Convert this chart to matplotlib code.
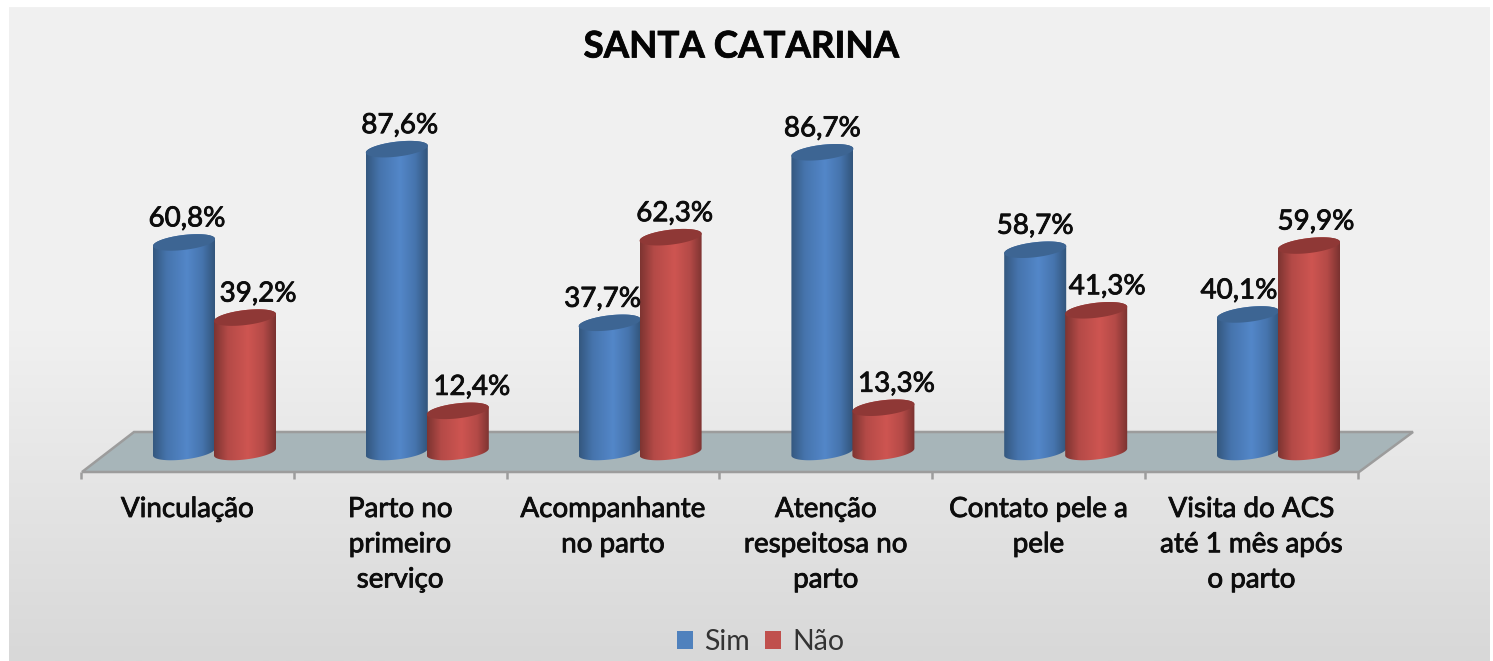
import matplotlib
matplotlib.use('Agg')
import matplotlib.pyplot as plt
import matplotlib.patheffects as pe
import numpy as np
from matplotlib.colors import LinearSegmentedColormap
from matplotlib.patches import Patch, PathPatch, Polygon
from matplotlib.path import Path

plt.rcParams['font.family'] = ['Lato', 'DejaVu Sans']

categorias = ['Vinculação', 'Parto no\nprimeiro\nserviço', 'Acompanhante\nno parto',
              'Atenção\nrespeitosa no\nparto', 'Contato pele a\npele',
              'Visita do ACS\naté 1 mês após\no parto']
sim = [60.8, 87.6, 37.7, 86.7, 58.7, 40.1]
nao = [39.2, 12.4, 62.3, 13.3, 41.3, 59.9]

# nudges of the value labels, in pixels
desloc_sim = [3, 3, -7, 0, 0, -9]
desloc_nao = [13, 14, 4, 13, 11, 7]

W, H = 1493, 661
PASSO = 212.8   # px between categories
X0 = 187.4      # px of first category
ESCALA = 3.48   # px per percent
Y0 = 454.0      # px of 0 %


def xd(px):
    return (px - X0) / PASSO


def yd(px):
    return (Y0 - px) / ESCALA


fig = plt.figure(figsize=(W / 100, H / 100), dpi=100, facecolor='white')
ax = fig.add_axes([0, 0, 1, 1])
ax.axis('off')

# slight stroke, the original text is heavier than Lato regular
grosso = [pe.withStroke(linewidth=0.6, foreground='#0d0d0d')]

# background
fundo = LinearSegmentedColormap.from_list('fundo', ['#f1f1f1', '#f0f0f0', '#d8d8d8'])
grad = np.r_[np.linspace(0, 0.5, 128), np.linspace(0.5, 1, 128)].reshape(-1, 1)
ax.imshow(grad, cmap=fundo, vmin=0, vmax=1, aspect='auto', origin='upper', zorder=0,
          extent=(xd(9), xd(1490), yd(H), yd(7)))

# floor
chao = [(xd(82), yd(472)), (xd(134), yd(432)), (xd(1413), yd(432)), (xd(1359), yd(472))]
ax.add_patch(Polygon(chao, closed=True, facecolor='#a7b5b9', edgecolor='#9c9c9c', lw=1.8, zorder=1))
for i in range(7):
    x = xd(81 + PASSO * i)
    ax.plot([x, x], [yd(472), yd(479)], color='#9c9c9c', lw=1.8, zorder=1, solid_capstyle='butt')

RAIO = 31 / PASSO
B = 7.5 / ESCALA
K = 3.5 / ESCALA
BASE = 2 / ESCALA   # bottom ellipse sits a little above the zero line
t_baixo = np.linspace(np.pi, 2 * np.pi, 60)
t_cima = np.linspace(0, np.pi, 60)
t_todo = np.linspace(0, 2 * np.pi, 120)

mapa_azul = LinearSegmentedColormap.from_list('azul', [(0, '#34587f'), (0.22, '#4674ad'),
                                                       (0.55, '#5387c9'), (0.8, '#4674ad'),
                                                       (1, '#32557b')])
mapa_verm = LinearSegmentedColormap.from_list('verm', [(0, '#7d3431'), (0.22, '#b44a47'),
                                                       (0.55, '#ce5551'), (0.8, '#b44a47'),
                                                       (1, '#7a3230')])


def cilindro(cx, valor, mapa, cor_topo, z):
    # side
    xb = cx + RAIO * np.cos(t_baixo)
    yb = BASE + B * np.sin(t_baixo) + K * np.cos(t_baixo)
    xc = cx + RAIO * np.cos(t_cima)
    yc = valor + K * np.cos(t_cima) + B * np.sin(t_cima)
    pts = np.vstack([np.c_[xb, yb], np.c_[xc, yc], [[xb[0], yb[0]]]])
    lado = PathPatch(Path(pts, closed=True), facecolor='none', edgecolor='none',
                     transform=ax.transData, zorder=z)
    ax.add_patch(lado)
    im = ax.imshow(np.linspace(0, 1, 128).reshape(1, -1), cmap=mapa, vmin=0, vmax=1,
                   aspect='auto', zorder=z,
                   extent=(cx - RAIO, cx + RAIO, -B - K, valor + B + K))
    im.set_clip_path(lado)
    # top
    ax.fill(cx + RAIO * np.cos(t_todo), valor + B * np.sin(t_todo) + K * np.cos(t_todo),
            color=cor_topo, lw=0, zorder=z + 0.1)


for i in range(len(categorias)):
    xs = i + xd(184)
    xn = i + xd(245)
    cilindro(xs, sim[i], mapa_azul, '#3d6593', 2 + i * 0.01)
    cilindro(xn, nao[i], mapa_verm, '#8f3836', 3 + i * 0.01)
    ax.text(xs + desloc_sim[i] / PASSO, sim[i] + 24 / ESCALA, f'{sim[i]:.1f}%'.replace('.', ','),
            ha='center', va='center', fontsize=20, color='#0d0d0d', zorder=5, path_effects=grosso)
    ax.text(xn + desloc_nao[i] / PASSO, nao[i] + 24 / ESCALA, f'{nao[i]:.1f}%'.replace('.', ','),
            ha='center', va='center', fontsize=20, color='#0d0d0d', zorder=5, path_effects=grosso)
    ax.text(i, yd(496), categorias[i], ha='center', va='top', fontsize=20,
            color='#0d0d0d', linespacing=1.44, zorder=5, path_effects=grosso)

ax.text(xd(741), yd(47), 'SANTA CATARINA', ha='center', va='center', fontsize=26.4,
        fontweight='bold', color='#050505', zorder=5, path_effects=grosso)

ax.set_xlim(xd(0), xd(W))
ax.set_ylim(yd(H), yd(0))

ax.legend(handles=[Patch(facecolor='#4f81bd', label='Sim'), Patch(facecolor='#c0504d', label='Não')],
          ncol=2, frameon=False, loc='center', bbox_to_anchor=(761 / W, 1 - 642 / H),
          fontsize=20.5, handlelength=0.56, handleheight=0.56, handletextpad=0.39,
          columnspacing=0.53, labelcolor='#333333')

fig.savefig('out.png', dpi=100, facecolor='white')
